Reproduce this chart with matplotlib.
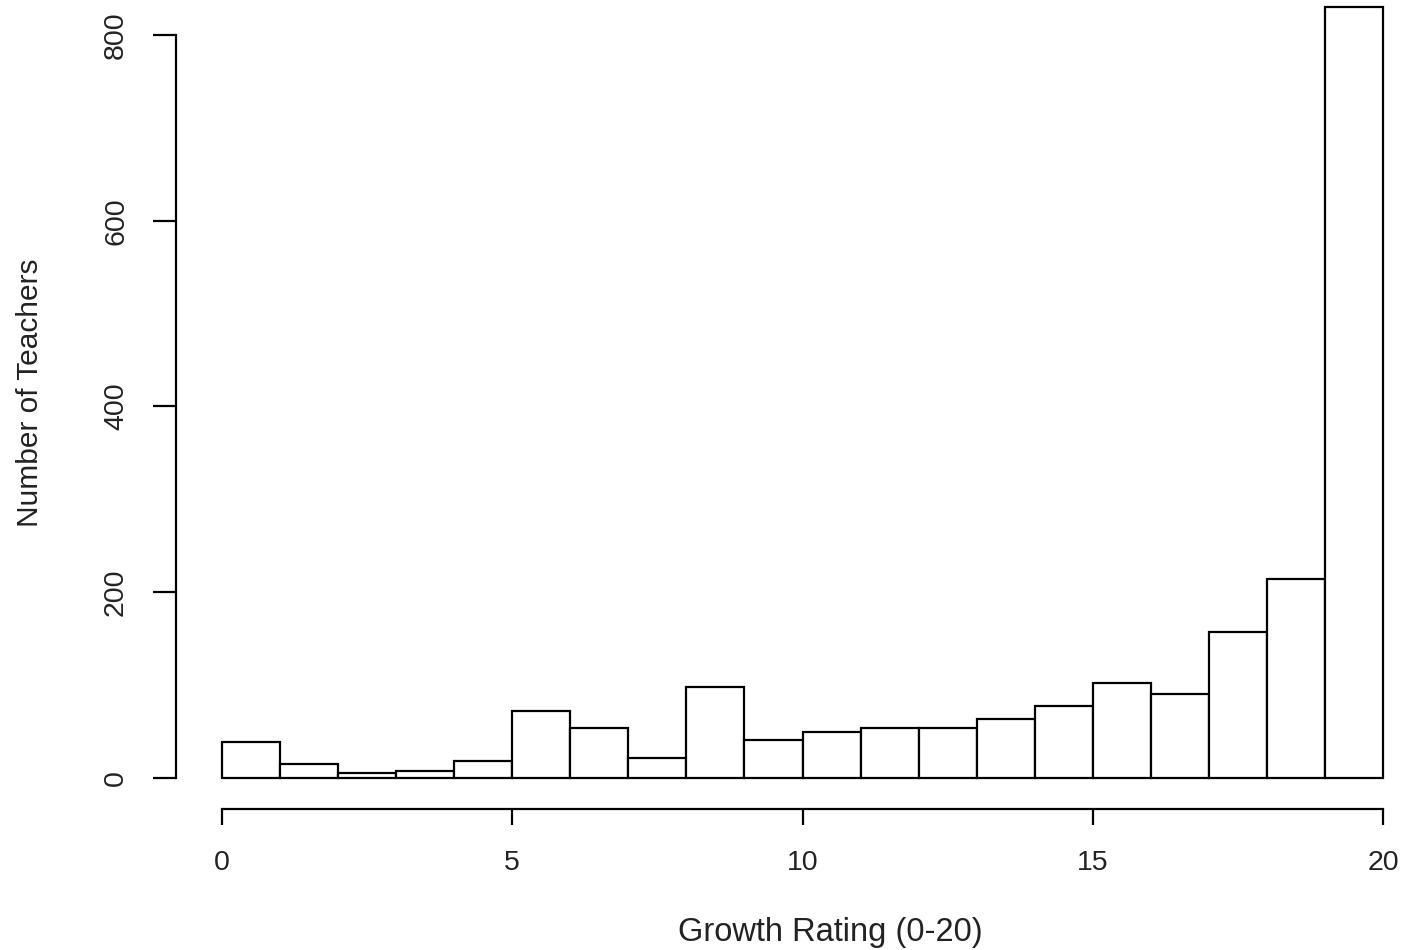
import matplotlib
matplotlib.use("Agg")
import matplotlib.pyplot as plt
import numpy as np

# ── Data ───────────────────────────────────────────────────────────────────────
bin_edges = list(range(0, 21))
counts = [39, 15, 5, 8, 18, 72, 54, 21, 98, 41,
          49, 54, 54, 64, 77, 102, 90, 157, 214, 830]
x_ticks = [0, 5, 10, 15, 20]
y_ticks = [0, 200, 400, 600, 800]

plt.rcParams.update({
    "font.family": ["Liberation Sans", "DejaVu Sans"],
    "font.size": 20,
    "text.color": "#222222",
})

W, H = 1406, 950
fig = plt.figure(figsize=(W / 100, H / 100), dpi=100)

# R-style plot region (4% padding), partly cropped by the figure edges
left_px, width_px = 175.6, 1253.9
bottom_px, height_px = 808.8, 832.5
ax = fig.add_axes([left_px / W, (H - bottom_px) / H, width_px / W, height_px / H])

ax.bar(bin_edges[:-1], counts, width=1, align="edge",
       facecolor="white", edgecolor="black", linewidth=1.6)

ax.set_xlim(-0.8, 20.8)
ax.set_ylim(-33.2, 863.2)

for side in ["top", "right"]:
    ax.spines[side].set_visible(False)
ax.spines["left"].set_bounds(0, 800)
ax.spines["bottom"].set_bounds(0, 20)
for side in ["left", "bottom"]:
    ax.spines[side].set_linewidth(1.6)
    ax.spines[side].set_color("black")

ax.set_xticks(x_ticks)
ax.set_yticks(y_ticks)
ax.set_yticklabels([str(v) for v in y_ticks], rotation=90, va="center")
ax.tick_params(axis="x", length=11.5, width=1.6, pad=18, labelsize=20.5, labelcolor="#222222")
ax.tick_params(axis="y", length=16.5, width=1.6, pad=17, labelsize=20.5, labelcolor="#222222")

ax.set_xlabel("Growth Rating (0-20)", fontsize=23.5, color="#222222")
ax.xaxis.set_label_coords((830 - left_px) / width_px, (bottom_px - 932) / height_px)
ax.set_ylabel("Number of Teachers", fontsize=21.5, color="#222222")
ax.yaxis.set_label_coords((30 - left_px) / width_px, (bottom_px - 393) / height_px)
ax.xaxis.label.set_va("center")
ax.yaxis.label.set_va("center")

fig.savefig("out.png", dpi=100, facecolor="white")
